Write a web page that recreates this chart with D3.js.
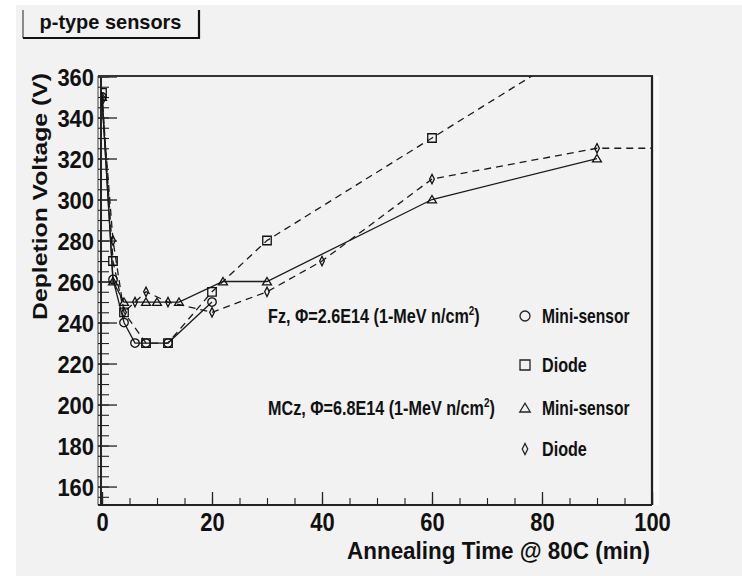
<!DOCTYPE html>
<html>
<head>
<meta charset="utf-8">
<script src="https://cdn.jsdelivr.net/npm/d3@7"></script>
<style>
  html, body { margin: 0; padding: 0; background: #ffffff; }
  svg { display: block; }
  text { font-family: "Liberation Sans", Arial, Helvetica, sans-serif; font-weight: bold; fill: #111; }
</style>
</head>
<body>
<svg id="chart" width="742" height="576"></svg>
<script>
// ---- Data ----
const fzMiniTime   = [0, 2, 4, 6, 8, 12, 20];
const fzMiniV      = [350, 261, 240, 230, 230, 230, 250];
const fzDiodeTime  = [0, 2, 4, 8, 12, 20, 30, 60, 90];
const fzDiodeV     = [352, 270, 245, 230, 230, 255, 280, 330, 380];
const mczMiniTime  = [0, 2, 4, 8, 10, 14, 22, 30, 60, 90];
const mczMiniV     = [350, 260, 250, 250, 250, 250, 260, 260, 300, 320];
const mczDiodeTime = [0, 2, 4, 6, 8, 12, 20, 30, 40, 60, 90, 120];
const mczDiodeV    = [348, 280, 245, 250, 255, 250, 245, 255, 270, 310, 325, 325];

const xMajorTicks = [0, 20, 40, 60, 80, 100];
const yMajorTicks = [160, 180, 200, 220, 240, 260, 280, 300, 320, 340, 360];
const xMinorTicks = d3.range(0, 101, 5);
const yMinorTicks = d3.range(155, 361, 5);

const titleText = "p-type sensors";
const xTitle = "Annealing Time @ 80C (min)";
const yTitle = "Depletion Voltage (V)";
const groupLabels = [
  { pre: "Fz, \u03A6=2.6E14 (1-MeV n/cm", sup: "2", post: ")" },
  { pre: "MCz, \u03A6=6.8E14 (1-MeV n/cm", sup: "2", post: ")" }
];
const legendNames = ["Mini-sensor", "Diode", "Mini-sensor", "Diode"];
const legendShapes = ["circle", "square", "triangle", "diamond"];

// ---- Layout ----
const W = 742, H = 576;
const L = 101, R = 652, T = 76, B = 505;
const svg = d3.select("#chart");

svg.append("rect").attr("x", 0).attr("y", 0).attr("width", W).attr("height", H).attr("fill", "#ffffff");
svg.append("rect").attr("x", 16).attr("y", 5).attr("width", W - 16).attr("height", H - 5).attr("fill", "#f2f2f2");

const x = d3.scaleLinear().domain([0, 100]).range([102, 652]);
const y = d3.scaleLinear().domain([151, 360]).range([B, 76.5]);

// helper for horizontally-scaled text
function scaledText(parent, px, py, width, size, anchor, rotate, build) {
  const g = parent.append("g");
  const t = g.append("text").attr("font-size", size).attr("text-anchor", anchor);
  build(t);
  const natural = t.node().getBBox().width;
  const sx = width / natural;
  g.attr("transform", `translate(${px},${py}) rotate(${rotate}) scale(${sx},1)`);
  return g;
}

// title box
svg.append("line").attr("x1", 23).attr("y1", 10).attr("x2", 23).attr("y2", 38).attr("stroke", "#222").attr("stroke-width", 1);
svg.append("line").attr("x1", 23).attr("y1", 38).attr("x2", 200).attr("y2", 38).attr("stroke", "#111").attr("stroke-width", 2.2);
svg.append("line").attr("x1", 199).attr("y1", 10).attr("x2", 199).attr("y2", 39).attr("stroke", "#111").attr("stroke-width", 2.2);
scaledText(svg, 110.5, 28.5, 142, 20, "middle", 0, t => t.text(titleText));

// clip
svg.append("clipPath").attr("id", "clip").append("rect")
  .attr("x", L).attr("y", T).attr("width", R - L).attr("height", B - T);

// light inner edge strip right of frame
svg.append("rect").attr("x", 654).attr("y", T).attr("width", 5).attr("height", B - T).attr("fill", "#fbfbfb");

// ---- Axes ----
// ladder-like double left edge
svg.append("line").attr("x1", 98).attr("y1", T).attr("x2", 98).attr("y2", B).attr("stroke", "#444").attr("stroke-width", 1);

const yMinorAxis = d3.axisLeft(y).tickValues(yMinorTicks).tickSize(-11).tickSizeOuter(0).tickFormat("");
const gyMinor = svg.append("g").attr("transform", "translate(98,0)").call(yMinorAxis);
gyMinor.select(".domain").remove();
gyMinor.selectAll("line").attr("stroke", "#222").attr("stroke-width", 1.1);

const yAxis = d3.axisLeft(y).tickValues(yMajorTicks).tickSize(-19).tickSizeOuter(0).tickPadding(7);
const gy = svg.append("g").attr("transform", "translate(98,0)").call(yAxis);
gy.select(".domain").remove();
gy.selectAll("line").attr("stroke", "#222").attr("stroke-width", 1.3);
gy.selectAll("text")
  .attr("font-size", 24.5)
  .attr("fill", "#111")
  .attr("x", -4)
  .attr("dy", "0.36em")
  .attr("textLength", d => 12.2 * String(d).length)
  .attr("lengthAdjust", "spacingAndGlyphs");

const xMinorAxis = d3.axisBottom(x).tickValues(xMinorTicks).tickSize(-7).tickSizeOuter(0).tickFormat("");
const gxMinor = svg.append("g").attr("transform", `translate(0,${B})`).call(xMinorAxis);
gxMinor.select(".domain").remove();
gxMinor.selectAll("line").attr("stroke", "#222").attr("stroke-width", 1.1);

const xAxis = d3.axisBottom(x).tickValues(xMajorTicks).tickSize(-13).tickSizeOuter(0).tickPadding(8);
const gx = svg.append("g").attr("transform", `translate(0,${B})`).call(xAxis);
gx.select(".domain").remove();
gx.selectAll("line").attr("stroke", "#222").attr("stroke-width", 1.3);
gx.selectAll("text")
  .attr("font-size", 25)
  .attr("fill", "#111")
  .attr("textLength", d => 12.2 * String(d).length)
  .attr("lengthAdjust", "spacingAndGlyphs");

// frame
svg.append("line").attr("x1", L).attr("y1", T).attr("x2", L).attr("y2", B).attr("stroke", "#222").attr("stroke-width", 2);
svg.append("line").attr("x1", L - 3).attr("y1", B).attr("x2", R).attr("y2", B).attr("stroke", "#222").attr("stroke-width", 2.2);
svg.append("line").attr("x1", L - 3).attr("y1", T).attr("x2", R + 1).attr("y2", T).attr("stroke", "#333").attr("stroke-width", 1.8);
svg.append("line").attr("x1", R).attr("y1", T).attr("x2", R).attr("y2", B).attr("stroke", "#222").attr("stroke-width", 2.2);

// axis titles
scaledText(svg, 650, 559, 303, 24, "end", 0, t => t.text(xTitle));
scaledText(svg, 47, 196.5, 247, 20, "middle", -90, t => t.text(yTitle));

// ---- Series ----
const series = [
  { t: fzMiniTime,   v: fzMiniV,   shape: "circle",   dash: null },
  { t: fzDiodeTime,  v: fzDiodeV,  shape: "square",   dash: "7,5" },
  { t: mczMiniTime,  v: mczMiniV,  shape: "triangle", dash: null },
  { t: mczDiodeTime, v: mczDiodeV, shape: "diamond",  dash: "7,5" }
];

function markerPath(shape, s) {
  if (shape === "circle") {
    const r = s / 2;
    return `M${-r},0 a${r},${r} 0 1,0 ${2 * r},0 a${r},${r} 0 1,0 ${-2 * r},0 Z`;
  }
  if (shape === "square") { const h = s / 2; return `M${-h},${-h} h${s} v${s} h${-s} Z`; }
  if (shape === "triangle") { const h = s / 2; return `M0,${-h * 0.95} L${h * 1.05},${h * 0.8} L${-h * 1.05},${h * 0.8} Z`; }
  if (shape === "diamond") { const h = s / 2; return `M0,${-h * 1.1} L${h * 0.55},0 L0,${h * 1.1} L${-h * 0.55},0 Z`; }
}

const plot = svg.append("g").attr("clip-path", "url(#clip)");
const line = d3.line().x(d => x(d[0])).y(d => y(d[1]));

series.forEach(s => {
  const pts = s.t.map((tt, i) => [tt, s.v[i]]);
  plot.append("path").datum(pts)
    .attr("d", line)
    .attr("fill", "none")
    .attr("stroke", "#1a1a1a")
    .attr("stroke-width", 1.3)
    .attr("stroke-dasharray", s.dash);
});
series.forEach(s => {
  const pts = s.t.map((tt, i) => [tt, s.v[i]]).filter(d => d[0] <= 100 && d[1] <= 360);
  plot.selectAll(null).data(pts).enter().append("path")
    .attr("transform", d => `translate(${x(d[0])},${y(d[1])})`)
    .attr("d", markerPath(s.shape, 8.5))
    .attr("fill", "none")
    .attr("stroke", "#111")
    .attr("stroke-width", 1.3);
});

// ---- Legend ----
const groupY = [323, 415];
groupLabels.forEach((gl, i) => {
  scaledText(svg, 268, groupY[i], i === 0 ? 212 : 227, 19.5, "start", 0, t => {
    t.append("tspan").text(gl.pre);
    t.append("tspan").attr("font-size", 12).attr("dy", -8).text(gl.sup);
    t.append("tspan").attr("dy", 8).text(gl.post);
  });
});
const legY = [323, 372, 415, 456];
legendNames.forEach((nm, i) => {
  svg.append("path")
    .attr("transform", `translate(525,${legY[i] - 7})`)
    .attr("d", markerPath(legendShapes[i], 10))
    .attr("fill", "none").attr("stroke", "#222").attr("stroke-width", 1.3);
  scaledText(svg, 542, legY[i], nm === "Diode" ? 45 : 88, 19.5, "start", 0, t => t.text(nm));
});
</script>
</body>
</html>
